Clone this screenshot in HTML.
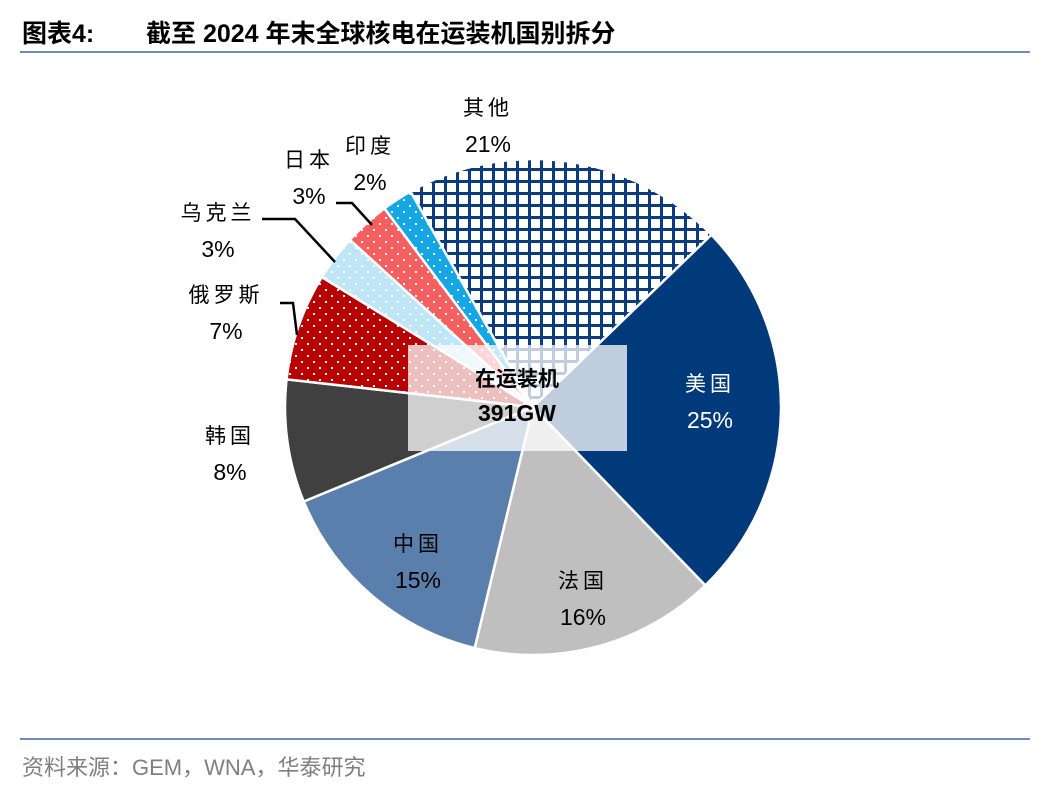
<!DOCTYPE html>
<html><head><meta charset="utf-8"><style>
body{margin:0;background:#fff;width:1048px;height:792px;overflow:hidden;font-family:"Liberation Sans","Noto Sans CJK SC",sans-serif}
</style></head><body>
<svg width="1048" height="792" viewBox="0 0 1048 792" id="svg">
<defs>
<pattern id="grid" width="12" height="12" patternUnits="userSpaceOnUse"><rect width="12" height="12" fill="#fff"/><path d="M0 1.5H12M1.5 0V12" stroke="#0b3a7e" stroke-width="3"/></pattern>
<pattern id="dRed" width="12" height="12" patternUnits="userSpaceOnUse"><rect width="12" height="12" fill="#b80000"/><rect x="1" y="1" width="2" height="2" fill="#fff"/><rect x="7" y="7" width="2" height="2" fill="#fff"/></pattern>
<pattern id="dLb" width="12" height="12" patternUnits="userSpaceOnUse"><rect width="12" height="12" fill="#bfe6f7"/><rect x="1" y="1" width="2" height="2" fill="#fff"/><rect x="7" y="7" width="2" height="2" fill="#fff"/></pattern>
<pattern id="dSal" width="12" height="12" patternUnits="userSpaceOnUse"><rect width="12" height="12" fill="#f55f5f"/><rect x="1" y="1" width="2" height="2" fill="#fff"/><rect x="7" y="7" width="2" height="2" fill="#fff"/></pattern>
<pattern id="dBl" width="12" height="12" patternUnits="userSpaceOnUse"><rect width="12" height="12" fill="#15a6e6"/><rect x="1" y="1" width="2" height="2" fill="#fff"/><rect x="7" y="7" width="2" height="2" fill="#fff"/></pattern>
</defs>
<text x="22" y="42" font-size="25" font-weight="bold" fill="#000">图表4:</text>
<text x="146" y="42" font-size="25" font-weight="bold" fill="#000">截至 2024 年末全球核电在运装机国别拆分</text>
<rect x="20" y="51" width="1010" height="2" fill="#6a8cc0"/>
<g id="slices"></g>
<g id="labels" font-size="23" fill="#000"></g>
<rect x="408" y="345" width="219" height="106" fill="#fff" fill-opacity="0.75"/>
<text x="517" y="386" font-size="21" font-weight="bold" text-anchor="middle">在运装机</text>
<text x="517" y="421" font-size="23" font-weight="bold" text-anchor="middle">391GW</text>
<rect x="20" y="738" width="1010" height="2" fill="#6a8cc0"/>
<text x="22" y="775" font-size="22" fill="#7f7f7f">资料来源：GEM，WNA，华泰研究</text>
</svg>
<script>
const categories=["美国","法国","中国","韩国","俄罗斯","乌克兰","日本","印度","其他"];
const values=[25,16,15,8,7,3,3,2,21];
const fills=["#003a7a","#bfbfbf","#5b7fac","#404040","url(#dRed)","url(#dLb)","url(#dSal)","url(#dBl)","url(#grid)"];
const labelPos=[[710,391,"#fff"],[583,588,"#000"],[418,551,"#000"],[230,443,"#000"],[226,302,"#000"],[218,220,"#000"],[309,167,"#000"],[370,153,"#000"],[488,115,"#000"]];
const cx=533,cy=407,R=248,startDeg=46;
const NS="http://www.w3.org/2000/svg";
const total=values.reduce((a,b)=>a+b,0);
function pt(deg,r){const a=deg*Math.PI/180;return [cx+r*Math.sin(a),cy-r*Math.cos(a)];}
let ang=startDeg;
const g=document.getElementById('slices'),lg=document.getElementById('labels');
values.forEach((v,i)=>{
 const sweep=v/total*360;const a0=ang,a1=ang+sweep;ang=a1;
 const p0=pt(a0,R),p1=pt(a1,R);
 const p=document.createElementNS(NS,'path');
 p.setAttribute('d',`M${cx} ${cy}L${p0[0]} ${p0[1]}A${R} ${R} 0 ${sweep>180?1:0} 1 ${p1[0]} ${p1[1]}Z`);
 p.setAttribute('fill',fills[i]);p.setAttribute('stroke','#fff');p.setAttribute('stroke-width','2.5');
 
 
 g.appendChild(p);
 const [lx,ly,col]=labelPos[i];
 const t1=document.createElementNS(NS,'text');
 t1.setAttribute('x',lx);t1.setAttribute('y',ly);t1.setAttribute('text-anchor','middle');t1.setAttribute('fill',col);
 t1.setAttribute('font-size','21');t1.setAttribute('letter-spacing','4');
 t1.textContent=categories[i];
 
 
 lg.appendChild(t1);
 const t2=document.createElementNS(NS,'text');
 t2.setAttribute('x',lx);t2.setAttribute('y',ly+37);t2.setAttribute('text-anchor','middle');t2.setAttribute('fill',col);
 t2.textContent=Math.round(v)+'%';
 
 
 lg.appendChild(t2);
});
const leaders=[[[280,303],[293,303],[297,335]],[[262,219],[295,219],[335,262]],[[336,203],[352,203],[372,225]]];
leaders.forEach(pts=>{
 const l=document.createElementNS(NS,'polyline');
 l.setAttribute('points',pts.map(p=>p.join(',')).join(' '));
 l.setAttribute('fill','none');l.setAttribute('stroke','#000');l.setAttribute('stroke-width','2.5');
 
 
 lg.appendChild(l);
});
</script>
</body></html>
